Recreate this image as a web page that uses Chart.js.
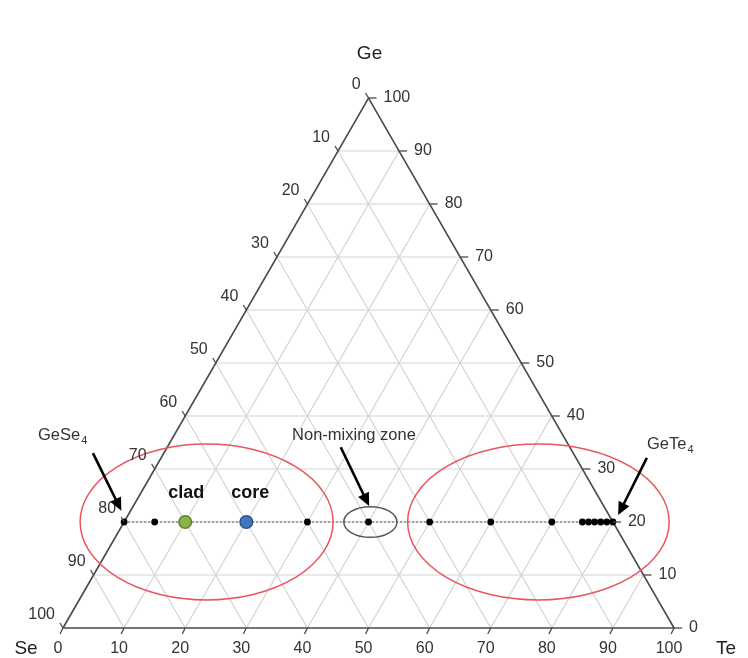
<!DOCTYPE html>
<html>
<head>
<meta charset="utf-8">
<script src="https://cdn.jsdelivr.net/npm/chart.js@4/dist/chart.umd.min.js"></script>
<style>
  html, body { margin: 0; padding: 0; background: #ffffff; }
  #wrap { width: 748px; height: 658px; }
</style>
</head>
<body>
<div id="wrap"><canvas id="c" width="748" height="658"></canvas></div>
<script>
// ---- Data (ternary Ge–Se–Te, at. %) ----
const tickValues = [0, 10, 20, 30, 40, 50, 60, 70, 80, 90, 100];
const gridLevels = [10, 20, 30, 40, 50, 60, 70, 80, 90];
const seriesGe = 20;                       // all compositions lie on Ge = 20
const sampleTe = [0, 5, 10, 20, 30, 40, 50, 60, 70, 75, 76, 77, 78, 79, 80];
const cladTe = [10];
const coreTe = [20];
const tieLineTe = [0, 80];
const cornerNames = ['Se', 'Te', 'Ge'];
// annotation features in ternary units [Te, Ge]
const ellipses = [
  { te: 13.5, ge: 20, rx: 20.7, ry: 14.7, color: '#e8555c' },
  { te: 67.8, ge: 20, rx: 21.4, ry: 14.7, color: '#e8555c' },
  { te: 40.3, ge: 20, rx: 4.35, ry: 2.9,  color: '#555555' }
];
const arrows = [
  { from: [-11.6, 33.0], to: [-1.5, 22.1] },   // GeSe4
  { from: [79.5, 32.1],  to: [80.2, 21.3] },   // GeTe4
  { from: [28.4, 34.1],  to: [38.6, 23.0] }    // non-mixing zone
];

// ternary -> cartesian (x = Te + Ge/2, y = Ge)
const tx = (te, ge) => te + ge / 2;
const pt = (te, ge) => ({ x: tx(te, ge), y: ge });

const datasets = [];
gridLevels.forEach(k => {
  datasets.push({ data: [pt(0, k), pt(100 - k, k)], order: 5 });           // const Ge
  datasets.push({ data: [pt(k, 0), pt(k, 100 - k)], order: 5 });           // const Te
  datasets.push({ data: [pt(100 - k, 0), pt(0, 100 - k)], order: 5 });     // const Se
});
datasets.forEach(d => Object.assign(d, {
  type: 'line', showLine: true, borderColor: '#d3d3d3', borderWidth: 1.2,
  pointRadius: 0, fill: false
}));
datasets.push({
  type: 'line', showLine: true, data: [pt(0, 0), pt(100, 0), pt(0, 100), pt(0, 0)],
  borderColor: '#4a4a4a', borderWidth: 1.6, pointRadius: 0, fill: false, order: 4
});
datasets.push({
  type: 'line', showLine: true, data: tieLineTe.map(t => pt(t, seriesGe)),
  borderColor: '#555', borderWidth: 1.2, borderDash: [2, 2], pointRadius: 0, fill: false, order: 3
});
datasets.push({
  type: 'scatter', data: sampleTe.filter(t => !cladTe.includes(t) && !coreTe.includes(t)).map(t => pt(t, seriesGe)),
  backgroundColor: '#000', borderColor: '#000', pointRadius: 3.4, borderWidth: 0, order: 2
});
datasets.push({
  type: 'scatter', data: cladTe.map(t => pt(t, seriesGe)),
  backgroundColor: '#8db24c', borderColor: '#5f8230', pointRadius: 6.3, borderWidth: 1.5, order: 1
});
datasets.push({
  type: 'scatter', data: coreTe.map(t => pt(t, seriesGe)),
  backgroundColor: '#4375be', borderColor: '#2b5593', pointRadius: 6.3, borderWidth: 1.5, order: 1
});

const FONT = '"Liberation Sans", Arial, Helvetica, sans-serif';

const overlay = {
  id: 'overlay',
  afterDatasetsDraw(chart) {
    const ctx = chart.ctx;
    const xs = chart.scales.x, ys = chart.scales.y;
    const P = (te, ge) => [xs.getPixelForValue(tx(te, ge)), ys.getPixelForValue(ge)];
    const unitX = xs.getPixelForValue(1) - xs.getPixelForValue(0);
    const unitY = ys.getPixelForValue(0) - ys.getPixelForValue(1);
    ctx.save();

    ellipses.forEach(e => {
      const [cx, cy] = P(e.te, e.ge);
      ctx.beginPath();
      ctx.ellipse(cx, cy, e.rx * unitX, e.ry * unitY, 0, 0, Math.PI * 2);
      ctx.strokeStyle = e.color;
      ctx.lineWidth = 1.5;
      ctx.stroke();
    });

    // ticks
    ctx.strokeStyle = '#4a4a4a';
    ctx.lineWidth = 1.3;
    tickValues.forEach(v => {
      let [x, y] = P(v, 0);
      ctx.beginPath(); ctx.moveTo(x, y); ctx.lineTo(x - 3, y + 6); ctx.stroke();
      [x, y] = P(100 - v, v);
      ctx.beginPath(); ctx.moveTo(x, y); ctx.lineTo(x + 8, y); ctx.stroke();
      [x, y] = P(0, 100 - v);
      ctx.beginPath(); ctx.moveTo(x, y); ctx.lineTo(x - 3, y - 5); ctx.stroke();
    });

    // tick labels
    ctx.fillStyle = '#333';
    ctx.font = '16px ' + FONT;
    ctx.textBaseline = 'middle';
    tickValues.forEach(v => {
      let [x, y] = P(v, 0);
      ctx.textAlign = 'center';
      ctx.fillText(String(v), x - 5, y + 21);
      [x, y] = P(100 - v, v);
      ctx.textAlign = 'left';
      ctx.fillText(String(v), x + 15, y);
      [x, y] = P(0, 100 - v);
      ctx.textAlign = 'right';
      ctx.fillText(String(v), x - 8, y - 13);
    });

    // corner names
    ctx.font = '19px ' + FONT;
    ctx.fillStyle = '#222';
    ctx.textAlign = 'center';
    let [x0, y0] = P(0, 0);
    ctx.fillText(cornerNames[0], x0 - 37, y0 + 21);
    let [x1, y1] = P(100, 0);
    ctx.fillText(cornerNames[1], x1 + 52, y1 + 21);
    let [x2, y2] = P(0, 100);
    ctx.fillText(cornerNames[2], x2 + 1, y2 - 44);

    // arrows
    function arrow(a, b) {
      const [ax, ay] = P(a[0], a[1]);
      const [bx, by] = P(b[0], b[1]);
      const ang = Math.atan2(by - ay, bx - ax);
      const hl = 13, hw = 6;
      const ex = bx - hl * Math.cos(ang), ey = by - hl * Math.sin(ang);
      ctx.strokeStyle = '#000';
      ctx.lineWidth = 2.6;
      ctx.beginPath(); ctx.moveTo(ax, ay); ctx.lineTo(ex + 2 * Math.cos(ang), ey + 2 * Math.sin(ang)); ctx.stroke();
      ctx.fillStyle = '#000';
      ctx.beginPath();
      ctx.moveTo(bx, by);
      ctx.lineTo(ex + hw * Math.sin(ang), ey - hw * Math.cos(ang));
      ctx.lineTo(ex - hw * Math.sin(ang), ey + hw * Math.cos(ang));
      ctx.closePath(); ctx.fill();
    }
    arrows.forEach(a => arrow(a.from, a.to));

    // annotation text
    ctx.fillStyle = '#333';
    ctx.textAlign = 'left';
    function formula(base, sub, x, y) {
      ctx.font = '16.5px ' + FONT;
      ctx.fillText(base, x, y);
      const w = ctx.measureText(base).width;
      ctx.font = '11px ' + FONT;
      ctx.fillText(sub, x + w + 1, y + 6);
    }
    formula('GeSe', '4', 38, 435);
    formula('GeTe', '4', 647, 444);
    ctx.font = '16.5px ' + FONT;
    ctx.textAlign = 'center';
    ctx.fillText('Non-mixing zone', 354, 435);

    ctx.fillStyle = '#111';
    ctx.font = 'bold 18px ' + FONT;
    const [cx1, cy1] = P(cladTe[0], seriesGe);
    ctx.fillText('clad', cx1 + 1, cy1 - 29);
    const [cx2, cy2] = P(coreTe[0], seriesGe);
    ctx.fillText('core', cx2 + 4, cy2 - 29);

    ctx.restore();
  }
};

new Chart(document.getElementById('c'), {
  type: 'scatter',
  data: { datasets },
  options: {
    responsive: false,
    devicePixelRatio: 1,
    animation: false,
    layout: { padding: 0, autoPadding: false },
    plugins: { legend: { display: false }, tooltip: { enabled: false } },
    scales: {
      x: { type: 'linear', display: false, min: -10.31, max: 112.1 },
      y: { type: 'linear', display: false, min: -5.66, max: 118.49 }
    },
    elements: { line: { tension: 0 } }
  },
  plugins: [overlay]
});
</script>
</body>
</html>
